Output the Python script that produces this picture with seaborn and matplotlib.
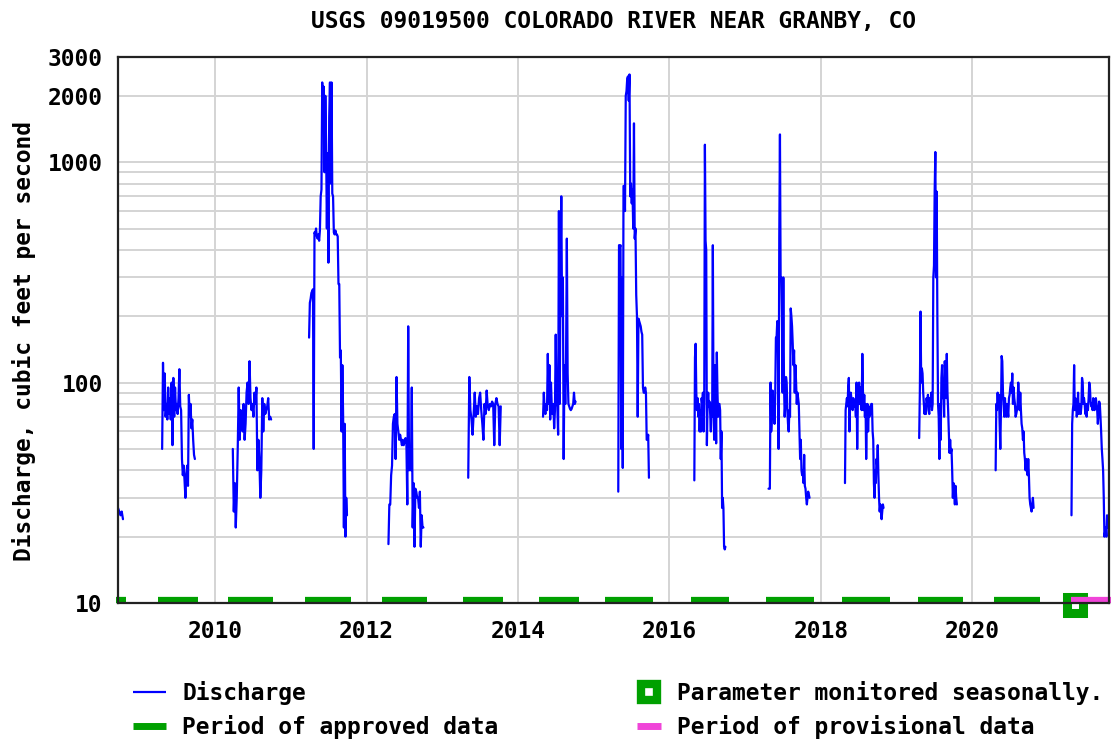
import pandas as pd
import matplotlib
matplotlib.use("Agg")
import matplotlib.pyplot as plt
import matplotlib.dates as mdates
from matplotlib.lines import Line2D
from matplotlib.ticker import FixedLocator, FixedFormatter, NullFormatter
import seaborn as sns

# USGS 09019500 daily discharge (cfs), seasonal record
season_spans = [
    ("2008-09-18", "2008-10-12"),
    ("2009-04-19", "2009-09-24"),
    ("2010-03-26", "2010-09-27"),
    ("2011-03-29", "2011-09-28"),
    ("2012-04-15", "2012-10-01"),
    ("2013-05-05", "2013-10-09"),
    ("2014-05-01", "2014-10-05"),
    ("2015-04-29", "2015-09-24"),
    ("2016-04-30", "2016-09-27"),
    ("2017-04-23", "2017-11-07"),
    ("2018-04-27", "2018-10-30"),
    ("2019-04-20", "2019-10-19"),
    ("2020-04-23", "2020-10-23"),
    ("2021-04-24", "2021-10-19"),
]

q_2008 = [27, 26, 25, 26, 24]
q_2009 = [50, 123, 75, 110, 70, 80, 68, 95, 72, 85, 68, 100, 52, 105, 70, 95, 75, 80, 72, 85,
          115, 78, 75, 45, 38, 42, 36, 30, 38, 42, 34, 88, 70, 80, 62, 68, 55, 47, 45]
q_2010 = [50, 26, 35, 22, 30, 50, 95, 55, 75, 70, 60, 80, 55, 65, 90, 100, 80, 125, 85, 75,
          80, 70, 90, 80, 95, 40, 55, 45, 30, 40, 85, 60, 80, 72, 75, 78, 85, 68, 70, 68]
q_2011 = [160, 230, 240, 255, 260, 265, 50, 480, 470, 500, 460, 450, 470, 440, 490, 700, 750,
          2300, 1500, 2200, 900, 2000, 1200, 500, 1100, 350, 1600, 2300, 800, 2300, 720, 700,
          480, 470, 490, 470, 470, 460, 280, 280, 130, 140, 60, 120, 70, 22, 65, 20, 30, 25]
q_2012 = [18.5, 28, 28, 38, 42, 65, 70, 72, 45, 106, 65, 60, 55, 58, 55, 52, 55, 52, 54, 56,
          53, 28, 180, 40, 45, 40, 95, 22, 35, 18, 33, 32, 30, 30, 27, 32, 18, 25, 22, 22]
q_2013 = [37, 106, 75, 68, 58, 72, 90, 70, 78, 72, 85, 90, 75, 65, 55, 80, 72, 92, 78, 75,
          80, 78, 82, 80, 52, 80, 85, 80, 78, 52, 78]
q_2014 = [70, 90, 75, 72, 80, 75, 135, 80, 120, 68, 100, 78, 72, 80, 62, 75, 165, 80, 78, 58,
          600, 80, 300, 700, 200, 300, 45, 120, 80, 130, 450, 110, 80, 78, 76, 75, 76, 78, 80,
          90, 80, 82]
q_2015 = [32, 420, 410, 420, 50, 300, 41, 780, 780, 600, 2000, 2100, 2400, 2450, 1900, 2500,
          700, 800, 650, 750, 500, 1500, 450, 500, 250, 200, 70, 195, 190, 185, 180, 170, 165,
          95, 90, 90, 95, 90, 55, 55, 58, 37]
q_2016 = [36, 130, 150, 90, 75, 85, 70, 80, 60, 75, 60, 85, 80, 90, 60, 85, 1200, 440, 400,
          52, 80, 90, 78, 82, 72, 60, 80, 70, 420, 80, 55, 120, 90, 53, 137, 90, 70, 80, 80,
          75, 45, 60, 27, 30, 27, 18, 17.5, 18]
q_2017 = [33, 33, 33, 100, 60, 70, 92, 75, 80, 65, 90, 160, 160, 190, 150, 50, 460, 1336,
          300, 300, 200, 90, 300, 100, 70, 80, 106, 100, 75, 65, 60, 75, 70, 217, 200, 180,
          150, 120, 140, 90, 120, 100, 80, 90, 85, 80, 60, 45, 55, 40, 38, 40, 35, 47, 34, 33,
          30, 28, 30, 32, 31, 30]
q_2018 = [35, 75, 80, 85, 78, 95, 105, 60, 80, 90, 85, 80, 75, 85, 80, 78, 80, 70, 100, 50,
          80, 82, 100, 80, 95, 78, 75, 135, 90, 75, 88, 70, 80, 45, 68, 80, 60, 75, 70, 78,
          72, 80, 80, 60, 55, 35, 30, 40, 35, 45, 42, 52, 38, 30, 26, 28, 26, 24, 26, 28, 27]
q_2019 = [56, 90, 210, 100, 116, 110, 90, 80, 72, 80, 72, 85, 80, 88, 75, 72, 85, 82, 90, 75,
          80, 300, 340, 735, 1112, 300, 735, 200, 80, 70, 45, 80, 55, 105, 120, 85, 95, 70,
          125, 100, 85, 135, 90, 75, 60, 48, 55, 48, 50, 40, 30, 35, 32, 28, 34, 30, 28]
q_2020 = [40, 80, 75, 90, 78, 88, 65, 50, 75, 132, 125, 90, 80, 70, 85, 75, 70, 80, 75, 70,
          85, 88, 95, 100, 90, 110, 80, 95, 85, 80, 70, 72, 75, 80, 100, 85, 75, 90, 75, 65,
          62, 55, 60, 48, 45, 40, 45, 40, 38, 45, 38, 30, 28, 27, 26, 28, 30, 27]
q_2021 = [25, 65, 75, 80, 120, 75, 85, 80, 70, 75, 90, 72, 80, 78, 72, 78, 105, 100, 80, 85,
          80, 72, 80, 70, 80, 75, 85, 100, 95, 82, 78, 80, 75, 85, 80, 75, 78, 85, 80, 75, 65,
          72, 82, 80, 70, 60, 50, 45, 40, 30, 20, 21, 22, 20, 25, 22, 24]

season_flows = [q_2008, q_2009, q_2010, q_2011, q_2012, q_2013, q_2014, q_2015, q_2016,
                q_2017, q_2018, q_2019, q_2020, q_2021]

approved_start = ["2008-09-10", "2009-03-30", "2010-03-04", "2011-03-08", "2012-03-17",
                  "2013-04-10", "2014-04-13", "2015-02-24", "2016-04-16", "2017-04-09",
                  "2018-04-13", "2019-04-13", "2020-04-16"]
approved_end = ["2008-10-27", "2009-10-10", "2010-10-08", "2011-10-16", "2012-10-16",
                "2013-10-20", "2014-10-23", "2015-10-16", "2016-10-15", "2017-11-28",
                "2018-11-28", "2019-11-17", "2020-11-21"]
provisional_start = ["2021-04-24"]
provisional_end = ["2021-11-02"]
seasonal_mark = "2021-05-12"

year_ticks = ["2010-01-01", "2012-01-01", "2014-01-01", "2016-01-01", "2018-01-01", "2020-01-01"]
y_major = [10, 100, 1000, 2000, 3000]
y_minor = [20, 30, 40, 50, 60, 70, 80, 90, 200, 300, 400, 500, 600, 700, 800, 900]

frames = []
for (start, end), q in zip(season_spans, season_flows):
    frames.append(pd.DataFrame({
        "date": pd.date_range(start, end, periods=len(q)),
        "discharge": q,
        "season": start[:4],
    }))
df = pd.concat(frames, ignore_index=True)

BLUE = "#0000ff"
GREEN = "#00a000"
PINK = "#f044d8"
GRID = "#d4d4d4"

sns.set_theme(style="white")
plt.rcParams["font.family"] = ["DejaVu Sans Mono"]
plt.rcParams["font.weight"] = "bold"
for key in ["text.color", "axes.labelcolor", "xtick.color", "ytick.color"]:
    plt.rcParams[key] = "black"
FS = 16.5

fig = plt.figure(figsize=(11.12, 7.40), dpi=100)
ax = fig.add_axes([118 / 1112, 1 - 603 / 740, 991 / 1112, 546 / 740])

sns.lineplot(data=df, x="date", y="discharge", units="season", estimator=None,
             color=BLUE, lw=1.6, ax=ax, legend=False, zorder=3)

ax.hlines([10.32] * len(approved_start), pd.to_datetime(approved_start),
          pd.to_datetime(approved_end), color=GREEN, lw=4.5, zorder=4, clip_on=False)
ax.plot([pd.Timestamp(seasonal_mark)], [9.8], marker="s", ms=12, mew=6.5,
        mfc="white", mec=GREEN, ls="none", zorder=5, clip_on=False)
ax.hlines([10.32], pd.to_datetime(provisional_start), pd.to_datetime(provisional_end),
          color=PINK, lw=4.5, zorder=6, clip_on=False)

ax.set_yscale("log")
ax.set_ylim(10, 3000)
ax.set_xlim(pd.Timestamp("2008-09-18"), pd.Timestamp("2021-10-22"))
ax.yaxis.set_major_locator(FixedLocator(y_major))
ax.yaxis.set_major_formatter(FixedFormatter([str(v) for v in y_major]))
ax.yaxis.set_minor_locator(FixedLocator(y_minor))
ax.yaxis.set_minor_formatter(NullFormatter())
ax.set_xticks(pd.to_datetime(year_ticks))
ax.xaxis.set_major_formatter(mdates.DateFormatter("%Y"))

ax.grid(True, which="both", axis="y", color=GRID, lw=1.4, zorder=0)
ax.grid(True, which="major", axis="x", color=GRID, lw=1.4, zorder=0)
ax.tick_params(axis="both", which="both", length=0, labelsize=FS)
ax.tick_params(axis="x", pad=12)
ax.tick_params(axis="y", pad=11)
for sp in ax.spines.values():
    sp.set_color("#222222")
    sp.set_linewidth(1.6)
    sp.set_zorder(7)

ax.set_xlabel("")
ax.set_ylabel("Discharge, cubic feet per second", fontsize=FS, fontweight="bold")
ax.yaxis.set_label_coords(-0.083, 0.48)
ax.set_title("USGS 09019500 COLORADO RIVER NEAR GRANBY, CO", fontsize=FS,
             fontweight="bold", pad=21)

left_handles = [Line2D([], [], color=BLUE, lw=1.6, solid_capstyle="butt"),
                Line2D([], [], color=GREEN, lw=5, solid_capstyle="butt")]
right_handles = [Line2D([], [], marker="s", ms=12, mew=6, mfc="white", mec=GREEN, ls="none"),
                 Line2D([], [], color=PINK, lw=5, solid_capstyle="butt")]
leg_kw = dict(loc="upper left", frameon=False, borderpad=0, borderaxespad=0,
              labelspacing=0.42, prop={"size": FS, "weight": "bold"})
fig.legend(left_handles, ["Discharge", "Period of approved data"],
           bbox_to_anchor=(133 / 1112, 1 - 681 / 740), handlelength=1.45,
           handletextpad=0.7, **leg_kw)
fig.legend(right_handles, ["Parameter monitored seasonally.", "Period of provisional data"],
           bbox_to_anchor=(637 / 1112, 1 - 681 / 740), handlelength=1.05,
           handletextpad=0.68, **leg_kw)

fig.savefig("out.png", dpi=100)
